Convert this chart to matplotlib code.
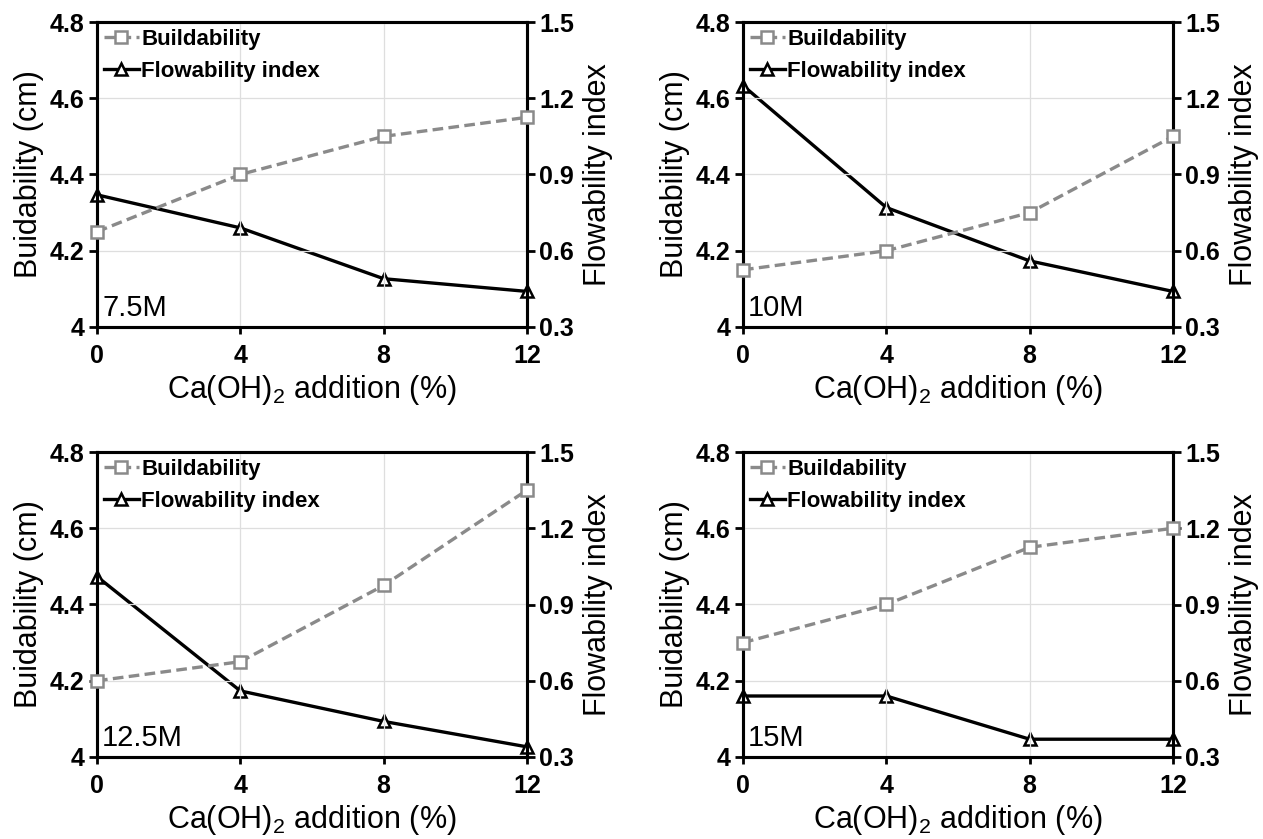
import matplotlib
matplotlib.use("Agg")
import matplotlib.pyplot as plt

plt.rcParams['font.family'] = ['Liberation Sans', 'DejaVu Sans']
plt.rcParams['mathtext.fontset'] = 'custom'
plt.rcParams['mathtext.rm'] = 'Liberation Sans'
plt.rcParams['mathtext.it'] = 'Liberation Sans:italic'

x_vals = [0, 4, 8, 12]
panel_labels = ["7.5M", "10M", "12.5M", "15M"]
buildability = [
    [4.25, 4.40, 4.50, 4.55],
    [4.15, 4.20, 4.30, 4.50],
    [4.20, 4.25, 4.45, 4.70],
    [4.30, 4.40, 4.55, 4.60],
]
flowability = [
    [0.82, 0.69, 0.49, 0.44],
    [1.25, 0.77, 0.56, 0.44],
    [1.01, 0.56, 0.44, 0.34],
    [0.54, 0.54, 0.37, 0.37],
]
left_ticks = [4.0, 4.2, 4.4, 4.6, 4.8]
left_ticklabels = ["4", "4.2", "4.4", "4.6", "4.8"]
right_ticks = [0.3, 0.6, 0.9, 1.2, 1.5]
right_ticklabels = ["0.3", "0.6", "0.9", "1.2", "1.5"]
x_ticklabels = ["0", "4", "8", "12"]

W, H = 1263, 839
fig = plt.figure(figsize=(W / 100, H / 100), dpi=100)

boxes = [(97, 22), (743, 22), (97, 452), (743, 452)]
aw, ah = 430, 305
gray = '#8a8a8a'

for i, (px, py) in enumerate(boxes):
    ax = fig.add_axes([px / W, 1 - (py + ah) / H, aw / W, ah / H])
    ax2 = ax.twinx()
    l1, = ax.plot(x_vals, buildability[i], color=gray, ls=(0, (3.2, 1.6)), lw=2.4,
                  marker='s', ms=9, mfc='white', mec=gray, mew=1.8, clip_on=False, zorder=5,
                  label='Buildability')
    l2, = ax2.plot(x_vals, flowability[i], color='black', ls='-', lw=2.4,
                   marker='^', ms=9, mfc='white', mec='black', mew=1.8, clip_on=False, zorder=5,
                   label='Flowability index')
    ax.set_xlim(0, 12)
    ax.set_ylim(4.0, 4.8)
    ax2.set_ylim(0.3, 1.5)
    ax.set_xticks(x_vals)
    ax.set_xticklabels(x_ticklabels)
    ax.set_yticks(left_ticks)
    ax.set_yticklabels(left_ticklabels)
    ax2.set_yticks(right_ticks)
    ax2.set_yticklabels(right_ticklabels)
    ax.grid(True, color='#dedede', lw=0.9)
    ax.set_axisbelow(True)
    for a in (ax, ax2):
        for s in a.spines.values():
            s.set_linewidth(2.2)
        a.tick_params(width=2.0, length=6, direction='out', labelsize=18)
        for lab in a.get_xticklabels() + a.get_yticklabels():
            lab.set_fontweight('bold')
    ax.tick_params(axis='x', pad=7, length=5)
    ax.tick_params(axis='y', pad=3)
    ax2.tick_params(axis='y', pad=3)
    ax.set_xlabel("Ca(OH)$_2$ addition (%)", fontsize=22, labelpad=4)
    ax.set_ylabel("Buidability (cm)", fontsize=22, labelpad=4)
    ax2.set_ylabel("Flowability index", fontsize=22, labelpad=6)
    ax.text(0.012, 0.015, panel_labels[i], transform=ax.transAxes, fontsize=21,
            ha='left', va='bottom', zorder=10)
    leg = ax.legend([l1, l2], ['Buildability', 'Flowability index'], loc='upper left',
                    frameon=False, handlelength=1.6, handletextpad=0.1,
                    borderaxespad=0.1, borderpad=0.2, labelspacing=0.5,
                    prop={'weight': 'bold', 'size': 16})
    ax.set_zorder(ax2.get_zorder() + 1)
    ax.patch.set_visible(False)

fig.savefig("out.png", dpi=100)
